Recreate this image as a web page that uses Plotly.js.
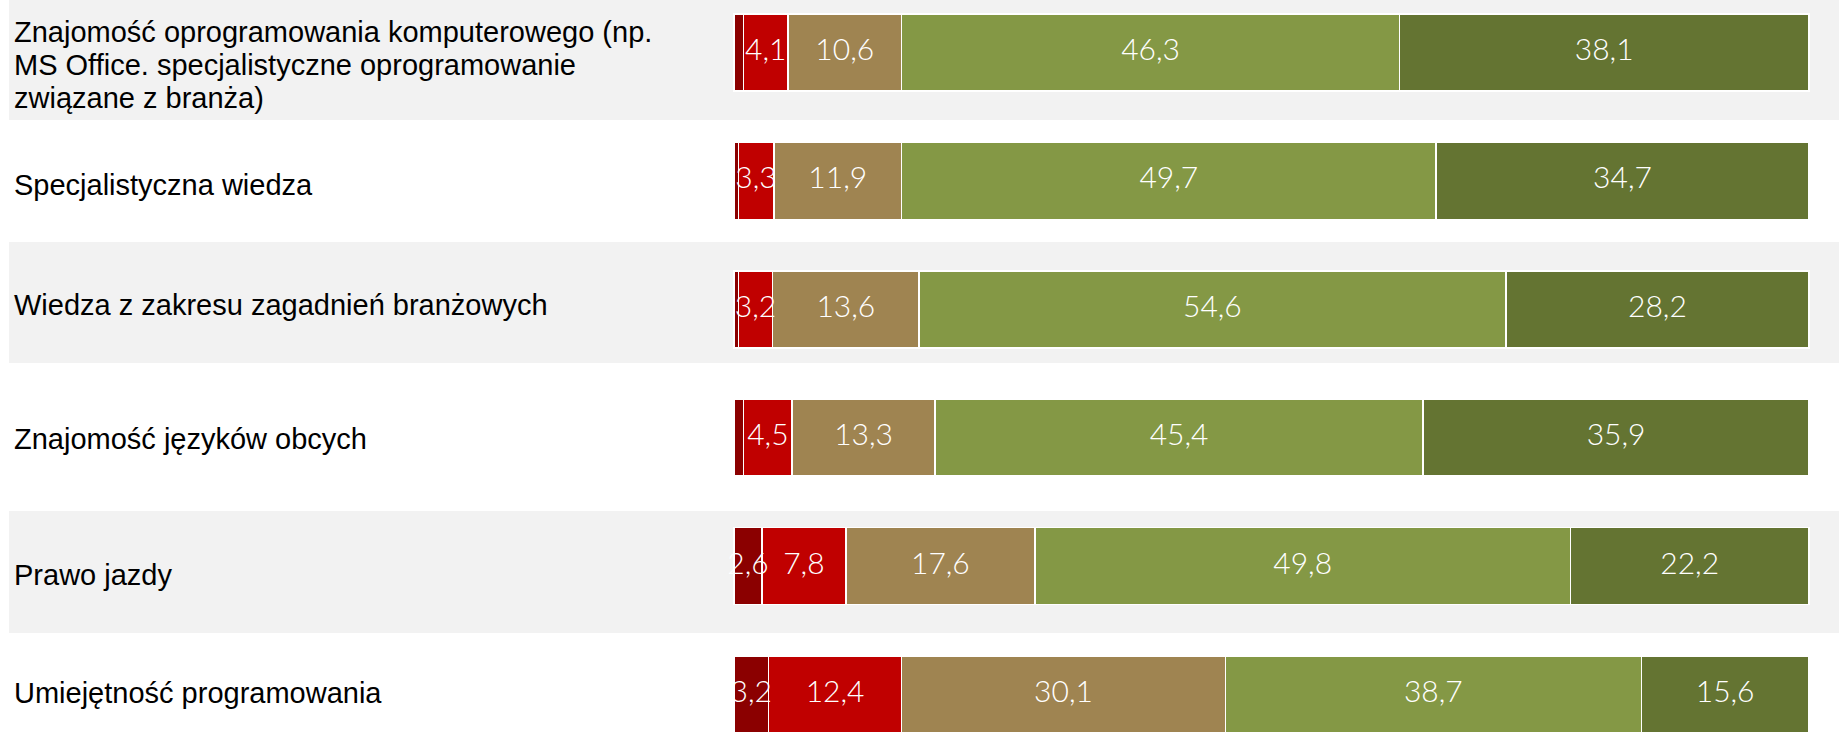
<!DOCTYPE html>
<html>
<head>
<meta charset="utf-8">
<script src="https://cdn.plot.ly/plotly-3.0.1.min.js"></script>
<style>html,body{margin:0;padding:0;background:#fff;}#chart{width:1839px;height:732px;}</style>
</head>
<body>
<div id="chart"></div>
<script>
// ---- data ----
const categories = [
  "Znajomość oprogramowania komputerowego (np.|MS Office. specjalistyczne oprogramowanie|związane z branża)",
  "Specjalistyczna wiedza",
  "Wiedza z zakresu zagadnień branżowych",
  "Znajomość języków obcych",
  "Prawo jazdy",
  "Umiejętność programowania"
];
const seriesNames = ["Zdecydowanie nieważne", "Raczej nieważne", "Ani ważne, ani nieważne", "Raczej ważne", "Zdecydowanie ważne"];
const s1 = [0.9, 0.4, 0.4, 0.9, 2.6, 3.2];
const s2 = [4.1, 3.3, 3.2, 4.5, 7.8, 12.4];
const s3 = [10.6, 11.9, 13.6, 13.3, 17.6, 30.1];
const s4 = [46.3, 49.7, 54.6, 45.4, 49.8, 38.7];
const s5 = [38.1, 34.7, 28.2, 35.9, 22.2, 15.6];

// ---- styling ----
const colors = ["#8B0000", "#C00000", "#9F8451", "#849845", "#647432"];
const series = [s1, s2, s3, s4, s5];
const yKeys = categories.map((c, i) => "cat" + i);

const traces = series.map((vals, k) => ({
  type: "bar",
  orientation: "h",
  name: seriesNames[k],
  y: yKeys,
  x: vals,
  marker: {color: colors[k], line: {color: "#ffffff", width: 1.5}},
  hoverinfo: "x+y+name"
}));

// value labels drawn on top of all segments (centre of each stacked segment)
const lx = [], ly = [], lt = [];
yKeys.forEach((key, i) => {
  let acc = 0;
  series.forEach(vals => {
    const v = vals[i];
    if (v >= 1) {
      lx.push(acc + v / 2);
      ly.push(key);
      lt.push(v.toFixed(1).replace(".", ","));
    }
    acc += v;
  });
});
traces.push({
  type: "scatter", mode: "text",
  x: lx, y: ly, text: lt,
  textposition: "middle center",
  textfont: {family: "Lato, 'Open Sans', sans-serif", size: 30, color: "#ffffff", weight: 300},
  hoverinfo: "skip", cliponaxis: false
});

// row bands (pixel edges converted to y-data units)
const pxPerRow = 128.4;
const yTop = -52.5 / pxPerRow;
const toY = px => yTop + px / pxPerRow;
const bandEdgesPx = [0, 120, 242, 363, 511, 633, 752];
const shapes = [];
for (let i = 0; i < 6; i++) {
  if (i % 2 === 0) {
    shapes.push({
      type: "rect", layer: "below",
      xref: "paper", x0: 9 / 1839, x1: 1,
      yref: "y", y0: toY(bandEdgesPx[i]), y1: toY(bandEdgesPx[i + 1]),
      fillcolor: "#F2F2F2", line: {width: 0}
    });
  }
}

const annotations = [];
const labelShift = [5, 4, 2.5, 2, 3, 0];
categories.forEach((c, i) => {
  const lines = c.split("|");
  const mid = (toY(bandEdgesPx[i]) + toY(bandEdgesPx[i + 1])) / 2;
  lines.forEach((ln, k) => {
    annotations.push({
      xref: "paper", x: 12 / 1839, xanchor: "left",
      yref: "y", y: mid, yanchor: "middle",
      yshift: -((k - (lines.length - 1) / 2) * 33.4) - labelShift[i],
      text: ln, showarrow: false,
      font: {family: "'Liberation Sans', Arial, sans-serif", size: 29, color: "#000000"}
    });
  });
});

const pxPerUnit = 10.75;
const xLeftPx = 734;
const layout = {
  width: 1839, height: 732,
  margin: {l: 0, r: 0, t: 0, b: 0, pad: 0},
  paper_bgcolor: "#ffffff", plot_bgcolor: "rgba(0,0,0,0)",
  barmode: "stack", bargap: 0.4,
  showlegend: false,
  xaxis: {range: [-xLeftPx / pxPerUnit, (1839 - xLeftPx) / pxPerUnit], visible: false, fixedrange: true},
  yaxis: {type: "category", categoryorder: "array", categoryarray: yKeys,
          range: [toY(732), toY(0)], visible: false, fixedrange: true},
  shapes: shapes,
  annotations: annotations
};

Plotly.newPlot("chart", traces, layout, {displayModeBar: false, staticPlot: true});
</script>
</body>
</html>
